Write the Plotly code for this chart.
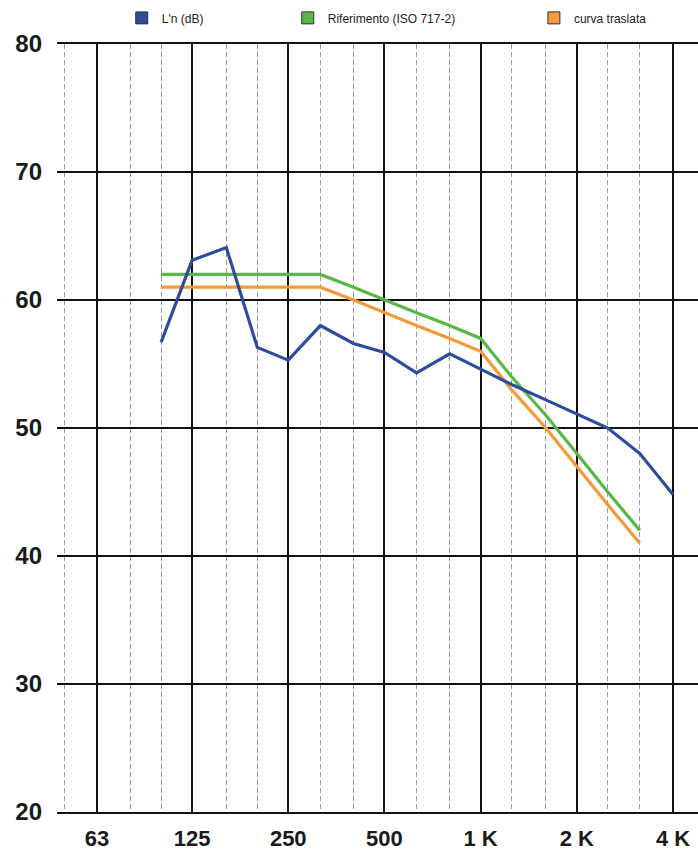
import plotly.graph_objects as go

# Third-octave frequencies (Hz)
freq_ln = [100, 125, 160, 200, 250, 315, 400, 500, 630, 800, 1000, 1250, 1600, 2000, 2500, 3150, 4000]
ln_values = [56.7, 63.1, 64.1, 56.3, 55.3, 58.0, 56.6, 55.9, 54.3, 55.8, 54.6, 53.4, 52.2, 51.1, 50.0, 48.0, 44.8]

freq_ref = [100, 125, 160, 200, 250, 315, 400, 500, 630, 800, 1000, 1250, 1600, 2000, 2500, 3150]
ref_values = [62, 62, 62, 62, 62, 62, 61, 60, 59, 58, 57, 54, 51, 48, 45, 42]
shift_values = [61, 61, 61, 61, 61, 61, 60, 59, 58, 57, 56, 53, 50, 47, 44, 41]

octave_ticks = [63, 125, 250, 500, 1000, 2000, 4000]
octave_labels = ["63", "125", "250", "500", "1 K", "2 K", "4 K"]
third_ticks = [50, 80, 100, 160, 200, 315, 400, 630, 800, 1250, 1600, 2500, 3150]
y_ticks = [20, 30, 40, 50, 60, 70, 80]

names = ["L'n (dB)", "Riferimento (ISO 717-2)", "curva traslata"]
colors = ["#2f4c9c", "#5bb648", "#f49a3a"]

fig = go.Figure()
series = [(freq_ln, ln_values), (freq_ref, ref_values), (freq_ref, shift_values)]
order = [2, 1, 0]
for i in order:
    fx, fy = series[i]
    fig.add_trace(go.Scatter(x=fx, y=fy, mode="lines", showlegend=False,
                             line=dict(color=colors[i], width=3.2)))

legend_ids = ["legend", "legend2", "legend3"]
for i in range(3):
    fig.add_trace(go.Scatter(x=[None], y=[None], mode="markers", name=names[i],
                             legend=legend_ids[i],
                             marker=dict(symbol="square", size=12, color=colors[i],
                                         line=dict(color="#333333", width=1))))

leg_font = dict(family="Liberation Sans, Arial, sans-serif", size=12, color="#222222")
leg_common = dict(orientation="h", yanchor="middle", y=1.034, xanchor="left",
                  font=leg_font, bgcolor="rgba(0,0,0,0)", borderwidth=0)

fig.update_layout(
    width=698, height=852,
    margin=dict(l=57, r=0, t=44, b=40),
    paper_bgcolor="white", plot_bgcolor="white",
    legend=dict(x=0.101, **leg_common),
    legend2=dict(x=0.360, **leg_common),
    legend3=dict(x=0.744, **leg_common),
    xaxis=dict(
        type="log", range=[1.67415, 3.68030],
        tickmode="array", tickvals=octave_ticks, ticktext=octave_labels,
        showgrid=True, gridcolor="#111111", gridwidth=2,
        showline=True, linecolor="#111111", linewidth=2, mirror=True,
        ticks="", ticklabelstandoff=6,
        tickfont=dict(family="Liberation Sans Narrow, Arial Narrow, Arial, sans-serif",
                      size=22, color="#1a1a1a", weight="bold"),
        minor=dict(tickmode="array", tickvals=third_ticks, showgrid=True,
                   gridcolor="#9a9a9a", gridwidth=1, griddash="5px,3px", ticks=""),
        zeroline=False,
    ),
    yaxis=dict(
        range=[20, 80], tickmode="array", tickvals=y_ticks,
        showgrid=True, gridcolor="#111111", gridwidth=2,
        showline=False, zeroline=False, ticks="", ticklabelstandoff=14,
        tickfont=dict(family="Liberation Sans Narrow, Arial Narrow, Arial, sans-serif",
                      size=24, color="#1a1a1a", weight="bold"),
    ),
)

fig.write_html(
    "out.html",
    config={"displayModeBar": False},
    post_script="document.body.style.margin='0';document.body.style.overflow='hidden';",
)
